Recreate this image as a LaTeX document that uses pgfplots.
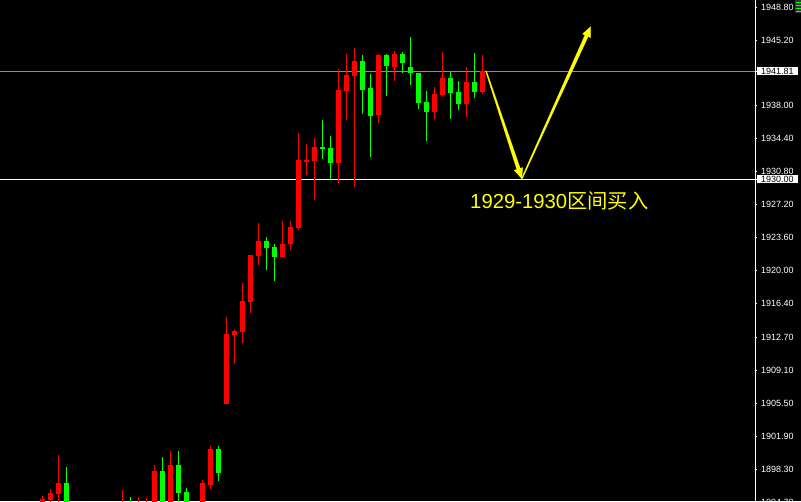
\documentclass[border=0pt]{standalone}
\usepackage{pgfplots}
\pgfplotsset{compat=1.18}
\usepackage{pgfplotstable}
\usepackage{fontspec}
\setmainfont{Liberation Sans}
\newfontfamily\cjk{Noto Sans CJK SC}
\definecolor{cred}{RGB}{255,0,0}
\definecolor{cgreen}{RGB}{0,255,0}
\definecolor{cyel}{RGB}{255,255,0}
\definecolor{lgray}{RGB}{140,140,140}

\pgfplotstableread{
x o h l c
5 1893.50 1895.35 1893.00 1895.02
6 1894.95 1896.12 1893.00 1895.68
7 1895.57 1899.83 1893.00 1896.77
15 1893.00 1896.01 1892.50 1893.80
17 1893.00 1895.24 1892.50 1893.80
18 1893.00 1895.13 1892.50 1893.80
19 1893.50 1898.74 1893.00 1898.08
21 1893.50 1900.27 1893.00 1898.74
25 1893.50 1897.10 1893.00 1896.77
26 1896.55 1900.82 1896.12 1900.49
28 1905.41 1914.92 1905.41 1913.06
29 1912.95 1913.61 1909.81 1913.39
30 1913.28 1918.63 1912.07 1916.67
31 1916.56 1921.69 1915.35 1921.69
32 1921.58 1925.19 1920.60 1923.22
35 1921.47 1925.41 1921.37 1922.90
36 1922.90 1925.41 1922.24 1924.75
37 1924.64 1935.03 1924.43 1932.08
38 1931.86 1933.83 1930.44 1932.08
39 1931.97 1934.48 1927.70 1933.50
42 1931.75 1942.02 1929.56 1939.73
43 1939.62 1943.66 1936.45 1941.37
44 1941.26 1944.32 1929.13 1942.90
47 1937.00 1943.66 1936.12 1943.55
49 1942.24 1943.99 1940.71 1943.66
54 1937.32 1940.06 1936.56 1939.29
55 1939.18 1943.88 1938.96 1941.04
58 1938.20 1942.24 1936.78 1940.60
60 1939.51 1943.55 1939.29 1941.80
}\redc

\pgfplotstableread{
x o h l c
8 1896.77 1898.52 1893.00 1893.50
16 1893.80 1895.24 1892.50 1893.00
20 1898.08 1899.61 1893.00 1893.50
22 1898.74 1900.27 1893.00 1895.68
23 1895.79 1896.23 1893.00 1893.50
27 1900.49 1900.82 1896.99 1897.87
33 1923.22 1923.66 1920.05 1922.46
34 1922.57 1922.90 1918.85 1921.47
40 1933.53 1936.45 1932.19 1933.31
41 1933.39 1934.70 1930.00 1931.75
45 1942.90 1943.55 1937.10 1939.73
46 1939.95 1941.48 1932.40 1936.89
48 1943.55 1943.66 1939.07 1942.35
50 1943.66 1943.88 1941.59 1942.68
51 1942.24 1945.52 1940.27 1941.59
52 1941.59 1941.59 1937.65 1938.31
53 1938.42 1939.62 1934.15 1937.32
56 1941.04 1941.70 1936.56 1939.40
57 1939.51 1940.71 1937.54 1938.20
59 1940.60 1943.77 1938.85 1939.51
}\greenc

\begin{document}
\begin{tikzpicture}
\useasboundingbox (0,0) rectangle (801pt,501pt);
\fill[black] (0,0) rectangle (801pt,501pt);
\begin{axis}[
  at={(0,0)}, anchor=south west,
  scale only axis, width=755pt, height=501pt,
  xmin=-0.3125, xmax=94.0625,
  ymin=1894.805, ymax=1949.565,
  hide x axis,
  axis y line*=right,
  axis line style={white, line width=1pt, -},
  ytick={1948.80,1945.20,1938.00,1934.40,1930.80,1927.20,1923.60,1920.00,1916.40,1912.70,1909.10,1905.50,1901.90,1898.30},
  yticklabels={1948.80,1945.20,1938.00,1934.40,1930.80,1927.20,1923.60,1920.00,1916.40,1912.70,1909.10,1905.50,1901.90,1898.30},
  extra y ticks={1941.81,1930.00},
  extra y tick labels={1941.81,1930.00},
  extra y tick style={yticklabel style={fill=white, text=black}},
  tick align=outside, major tick length=2pt,
  tick style={white, line width=0.8pt},
  yticklabel style={font=\fontsize{9}{10}\selectfont, text=white, inner xsep=4pt, inner ysep=1pt},
  clip=true,
  candle/.style={draw=none, no marks, forget plot, error bars/.cd, y dir=both, y explicit, error mark=none},
]
\addplot[lgray, line width=0.8pt, no marks] coordinates {(-0.3125,1941.81) (94.0625,1941.81)};
\addplot[white, line width=0.8pt, no marks] coordinates {(-0.3125,1930.00) (94.0625,1930.00)};

% wicks
\addplot[candle, error bar style={draw=cred, line width=1pt}]
  table[x=x, y expr={(\thisrow{h}+\thisrow{l})/2}, y error expr={(\thisrow{h}-\thisrow{l})/2}] {\redc};
\addplot[candle, error bar style={draw=cgreen, line width=1pt}]
  table[x=x, y expr={(\thisrow{h}+\thisrow{l})/2}, y error expr={(\thisrow{h}-\thisrow{l})/2}] {\greenc};
% bodies
\addplot[candle, error bar style={draw=cred, line width=5pt}]
  table[x=x, y expr={(\thisrow{o}+\thisrow{c})/2}, y error expr={abs(\thisrow{c}-\thisrow{o})/2}] {\redc};
\addplot[candle, error bar style={draw=cgreen, line width=5pt}]
  table[x=x, y expr={(\thisrow{o}+\thisrow{c})/2}, y error expr={abs(\thisrow{c}-\thisrow{o})/2}] {\greenc};

% arrows
\addplot[fill=cyel, draw=cyel, line width=0.2pt, no marks] coordinates {
(60.496,1941.822) (64.72,1931.155) (65.04,1931.248) (64.90,1930.055)
(63.97,1930.938) (64.29,1931.031) (60.379,1941.787)};
\addplot[fill=cyel, draw=cyel, line width=0.2pt, no marks] coordinates {
(64.9575,1929.977) (73.21,1945.570) (73.52,1945.448) (73.525,1946.647)
(72.50,1945.854) (72.80,1945.732) (64.8425,1930.023)};

\node[anchor=base west, inner sep=0pt, text=cyel, font=\fontsize{20.3}{22}\selectfont]
  at (axis cs:58.44,1926.83) {1929-1930{\cjk 区间买入}};
\end{axis}
% partially visible lowest price label
\node[anchor=west, inner xsep=0pt, text=white, font=\fontsize{9}{10}\selectfont] at (761pt,-1pt) {1894.70};
% small menu icon in the top-right corner
\fill[black!80] (795pt,488pt) rectangle (801pt,501pt);
\foreach \yy in {499,496,493,490} \draw[cgreen, line width=0.8pt] (796pt,\yy pt) -- (801pt,\yy pt);
\end{tikzpicture}
\end{document}
